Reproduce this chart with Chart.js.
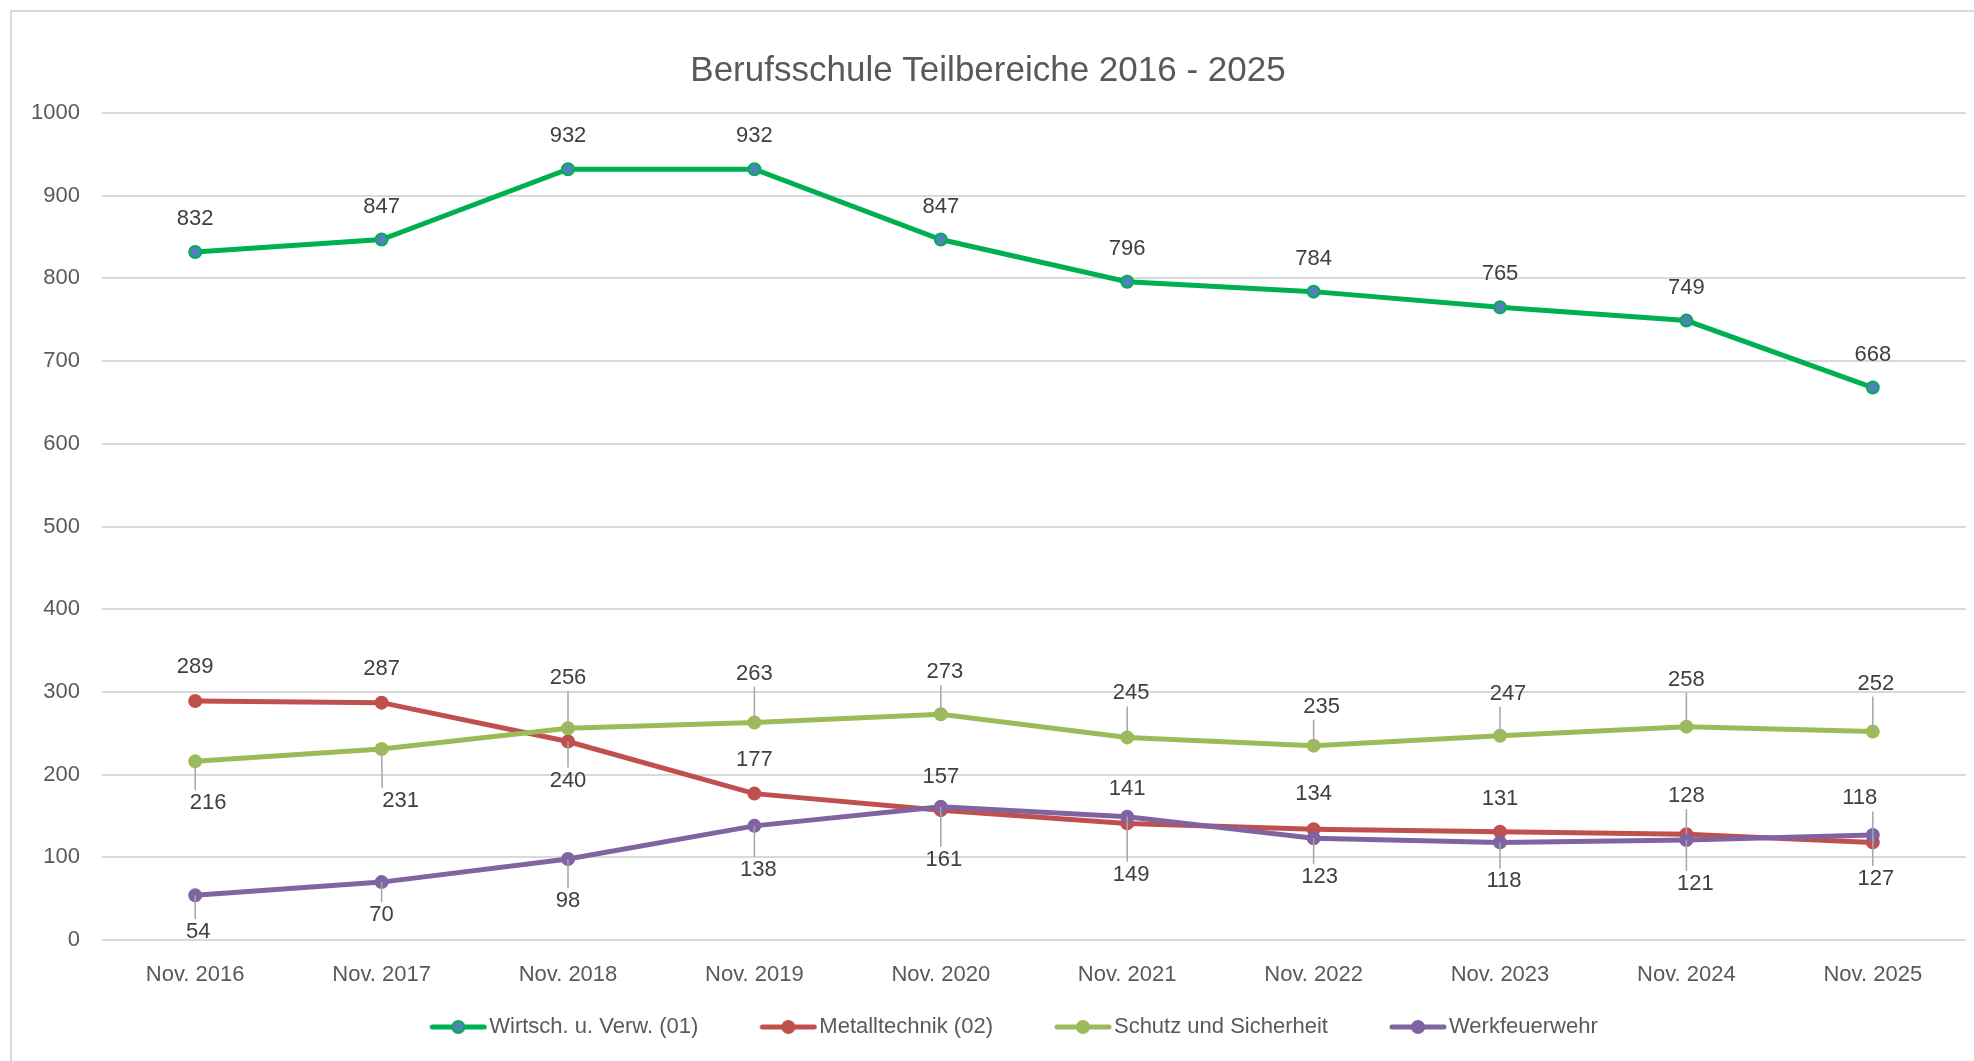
<!DOCTYPE html>
<html>
<head>
<meta charset="utf-8">
<script src="https://cdn.jsdelivr.net/npm/chart.js@4.4.1/dist/chart.umd.min.js"></script>
<style>
  html, body { margin: 0; padding: 0; background: #fff; }
  #wrap { width: 1974px; height: 1061px; }
</style>
</head>
<body>
<div id="wrap"><canvas id="myChart"></canvas></div>
<script>
const categories = ['Nov. 2016', 'Nov. 2017', 'Nov. 2018', 'Nov. 2019', 'Nov. 2020',
    'Nov. 2021', 'Nov. 2022', 'Nov. 2023', 'Nov. 2024', 'Nov. 2025'];
const seriesNames = ['Wirtsch. u. Verw. (01)', 'Metalltechnik (02)', 'Schutz und Sicherheit', 'Werkfeuerwehr'];
const wirtschaft = [832, 847, 932, 932, 847, 796, 784, 765, 749, 668];
const metalltechnik = [289, 287, 240, 177, 157, 141, 134, 131, 128, 118];
const schutz = [216, 231, 256, 263, 273, 245, 235, 247, 258, 252];
const werkfeuerwehr = [54, 70, 98, 138, 161, 149, 123, 118, 121, 127];

// where each data label sits relative to its point (px), and whether it gets a leader line
const labelDx = [
    [0, 0, 0, 0, 0, 0, 0, 0, 0, 0],
    [0, 0, 0, 0, 0, 0, 0, 0, 0, -13],
    [13, 19, 0, 0, 4, 4, 8, 8, 0, 3],
    [3, 0, 0, 4, 3, 4, 6, 4, 9, 3]
];
const labelDy = [
    [-33, -33, -33, -33, -33, -33, -33, -33, -33, -33],
    [-34, -34, 39, -34, -33, -34, -35, -33, -38, -44],
    [42, 52, -50, -49, -42, -44, -39, -42, -47, -48],
    [37, 33, 42, 44, 53, 58, 39, 39, 44, 44]
];
const leaders = [
    [0, 0, 0, 0, 0, 0, 0, 0, 0, 0],
    [0, 0, 1, 0, 0, 0, 0, 0, 1, 1],
    [1, 1, 1, 1, 1, 1, 1, 1, 1, 1],
    [1, 1, 1, 1, 1, 1, 1, 1, 1, 1]
];

const lineColors = ['#00B050', '#C0504D', '#9BBB59', '#8064A2'];
const markerFill = ['#4F81BD', '#C0504D', '#9BBB59', '#8064A2'];
const FONT = "'Liberation Sans', Arial, sans-serif";

// legend symbol: short line with a marker, drawn into a small canvas
// (left part stays empty so the symbol lands right before the text)
function legendIcon(i) {
    const c = document.createElement('canvas');
    c.width = 118;
    c.height = 16;
    const g = c.getContext('2d');
    g.strokeStyle = lineColors[i];
    g.lineWidth = 5;
    g.lineCap = 'round';
    g.beginPath();
    g.moveTo(63, 8);
    g.lineTo(115, 8);
    g.stroke();
    g.beginPath();
    g.arc(89, 8, 6, 0, Math.PI * 2);
    g.fillStyle = markerFill[i];
    g.fill();
    g.lineWidth = 2;
    g.stroke();
    return c;
}
const icons = [0, 1, 2, 3].map(legendIcon);

const frame = {
    id: 'frame',
    beforeDraw(chart) {
        const ctx = chart.ctx;
        ctx.save();
        ctx.fillStyle = '#fff';
        ctx.fillRect(0, 0, chart.width, chart.height);
        ctx.strokeStyle = '#D9D9D9';
        ctx.lineWidth = 2;
        ctx.beginPath();
        ctx.moveTo(11, chart.height);
        ctx.lineTo(11, 11);
        ctx.lineTo(chart.width, 11);
        ctx.stroke();
        ctx.restore();
    }
};

const dataLabels = {
    id: 'dataLabels',
    afterDatasetsDraw(chart) {
        const ctx = chart.ctx;
        ctx.save();
        ctx.font = '22px ' + FONT;
        chart.data.datasets.forEach((ds, d) => {
            const meta = chart.getDatasetMeta(d);
            meta.data.forEach((pt, i) => {
                const lx = pt.x + labelDx[d][i];
                const ly = pt.y + labelDy[d][i];
                const txt = String(ds.data[i]);
                const w = ctx.measureText(txt).width;
                if (leaders[d][i]) {
                    const ex = Math.min(Math.max(pt.x, lx - w / 2), lx + w / 2);
                    const ey = labelDy[d][i] > 0 ? ly - 13 : ly + 13;
                    ctx.strokeStyle = '#A6A6A6';
                    ctx.lineWidth = 1.5;
                    ctx.beginPath();
                    ctx.moveTo(pt.x, pt.y);
                    ctx.lineTo(ex, ey);
                    ctx.stroke();
                }
                ctx.fillStyle = '#404040';
                ctx.textAlign = 'center';
                ctx.textBaseline = 'middle';
                ctx.fillText(txt, lx, ly);
            });
        });
        ctx.restore();
    }
};

const allSeries = [wirtschaft, metalltechnik, schutz, werkfeuerwehr];

const data = {
    labels: categories,
    datasets: allSeries.map((vals, i) => ({
        label: seriesNames[i],
        data: vals,
        borderColor: lineColors[i],
        backgroundColor: lineColors[i],
        pointBackgroundColor: markerFill[i],
        pointBorderColor: lineColors[i],
        pointBorderWidth: 2,
        pointRadius: 6,
        pointHoverRadius: 6,
        borderWidth: 5,
        tension: 0,
        fill: false,
        order: 4 - i
    }))
};

const ctx = document.getElementById('myChart');
const myChart = new Chart(ctx, {
    type: 'line',
    data: data,
    plugins: [frame, dataLabels],
    options: {
        responsive: true,
        maintainAspectRatio: false,
        animation: false,
        layout: {
            padding: { left: 10, right: 8, top: 20, bottom: 13 }
        },
        plugins: {
            title: {
                display: true,
                text: 'Berufsschule Teilbereiche 2016 - 2025',
                color: '#595959',
                font: { family: FONT, size: 35, weight: 'normal' },
                padding: { top: 30, bottom: 21 }
            },
            legend: {
                position: 'bottom',
                labels: {
                    usePointStyle: true,
                    pointStyleWidth: 100,
                    padding: 10,
                    color: '#595959',
                    font: { family: FONT, size: 22 },
                    sort: (a, b) => a.datasetIndex - b.datasetIndex,
                    generateLabels: (chart) => {
                        const items = Chart.defaults.plugins.legend.labels.generateLabels(chart);
                        items.forEach(it => { it.pointStyle = icons[it.datasetIndex]; });
                        return items;
                    }
                }
            },
            tooltip: { enabled: false }
        },
        scales: {
            x: {
                offset: true,
                grid: { display: false },
                border: { display: false },
                ticks: {
                    color: '#595959',
                    font: { family: FONT, size: 22 },
                    padding: 14,
                    maxRotation: 0
                },
                afterFit: (scale) => { scale.height = 66; }
            },
            y: {
                min: 0,
                max: 1000,
                grid: { color: '#D9D9D9', lineWidth: 2, drawTicks: false },
                border: { display: false },
                ticks: {
                    stepSize: 100,
                    color: '#595959',
                    font: { family: FONT, size: 22 },
                    padding: 22,
                    callback: (v) => String(v)
                },
                afterFit: (scale) => { scale.width = 92; }
            }
        }
    }
});
</script>
</body>
</html>
